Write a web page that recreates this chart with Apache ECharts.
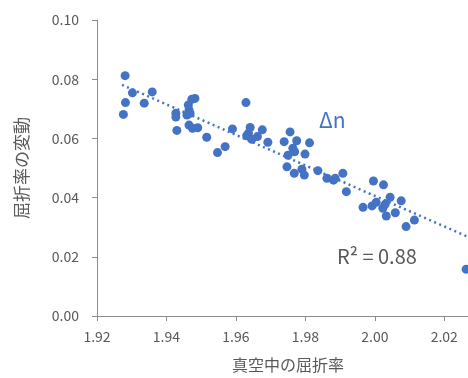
<!DOCTYPE html>
<html><head><meta charset="utf-8">
<script src="https://cdn.jsdelivr.net/npm/echarts@6/dist/echarts.min.js"></script>
<style>html,body{margin:0;padding:0;background:#fff}#c{width:468px;height:378px}</style>
</head><body><div id="c"></div>
<script>
const xValues = [1.9281,1.9302,1.9359,1.9282,1.9336,1.9276,1.9427,1.9427,1.9430,1.9482,1.9473,1.9463,1.9465,1.9459,1.9468,1.9465,1.9475,1.9490,1.9516,
1.9629,1.9590,1.9547,1.9569,1.9641,1.9636,1.9631,1.9646,1.9662,1.9676,1.9692,1.9739,1.9756,1.9775,1.9764,1.9769,1.9750,1.9747,
1.9812,1.9799,1.9768,1.9790,1.9797,1.9836,1.9862,1.9881,1.9886,1.9908,1.9918,1.9996,
2.0025,1.9966,1.9992,2.0004,2.0023,2.0030,2.0044,2.0033,2.0059,2.0076,2.0114,2.0090,2.0263];
const yValues = [0.0812,0.0754,0.0757,0.0721,0.0719,0.0681,0.0685,0.0672,0.0627,0.0735,0.0732,0.0713,0.0696,0.0679,0.0685,0.0645,0.0634,0.0636,0.0604,
0.0721,0.0632,0.0552,0.0572,0.0637,0.0617,0.0609,0.0597,0.0606,0.0629,0.0587,0.0589,0.0622,0.0592,0.0567,0.0555,0.0543,0.0504,
0.0585,0.0547,0.0482,0.0496,0.0476,0.0491,0.0465,0.0459,0.0465,0.0482,0.0420,0.0456,
0.0443,0.0367,0.0372,0.0384,0.0364,0.0378,0.0401,0.0338,0.0349,0.0389,0.0324,0.0302,0.0158];
const trendX = [1.9272, 2.0269];
const trendY = [0.0781, 0.0267];
const xTicks = {min: 1.92, max: 2.03, interval: 0.02};
const yTicks = {min: 0, max: 0.10, interval: 0.02};

const points = xValues.map((x, i) => [x, yValues[i]]);
const trend = trendX.map((x, i) => [x, trendY[i]]);
const font = '"Noto Sans CJK JP", "Noto Sans", sans-serif';
const axisColor = '#8c8c8c';
const chart = echarts.init(document.getElementById('c'), null, {renderer: 'canvas'});
chart.setOption({
  animation: false,
  backgroundColor: '#fff',
  grid: {left: 97, top: 20, width: 382, height: 296, containLabel: false, outerBoundsMode: 'none'},
  xAxis: {
    type: 'value', min: xTicks.min, max: xTicks.max, interval: xTicks.interval,
    name: '真空中の屈折率', nameLocation: 'middle', nameGap: 41,
    nameTextStyle: {fontFamily: font, fontSize: 16, color: '#595959'},
    axisLine: {show: true, lineStyle: {color: axisColor, width: 1}},
    axisTick: {show: true, length: 5, lineStyle: {color: axisColor}},
    splitLine: {show: false},
    axisLabel: {fontFamily: font, fontSize: 14, color: '#595959', margin: 14,
      formatter: v => v.toFixed(2), showMaxLabel: false}
  },
  yAxis: {
    type: 'value', min: yTicks.min, max: yTicks.max, interval: yTicks.interval,
    name: '屈折率の変動', nameLocation: 'middle', nameGap: 67, nameRotate: 90,
    nameTextStyle: {fontFamily: font, fontSize: 17, color: '#595959'},
    axisLine: {show: true, lineStyle: {color: axisColor, width: 1}},
    axisTick: {show: true, length: 5, lineStyle: {color: axisColor}},
    splitLine: {show: false},
    axisLabel: {fontFamily: font, fontSize: 14, color: '#595959', margin: 18,
      formatter: v => v.toFixed(2)}
  },
  series: [
    {type: 'scatter', data: points, symbol: 'circle', symbolSize: 9,
     itemStyle: {color: '#4472C4', opacity: 1}, z: 3},
    {type: 'line', data: trend, symbol: 'none', silent: true,
     lineStyle: {color: '#4472C4', width: 2.5, type: [2, 3.5]}, z: 2}
  ],
  graphic: [
    {type: 'text', left: 319, top: 110, style: {text: 'Δn', fontFamily: font, fontSize: 21, fill: '#4472C4'}},
    {type: 'text', left: 337, top: 246, style: {text: 'R² = 0.88', fontFamily: font, fontSize: 20, fill: '#595959'}}
  ]
});
</script></body></html>
